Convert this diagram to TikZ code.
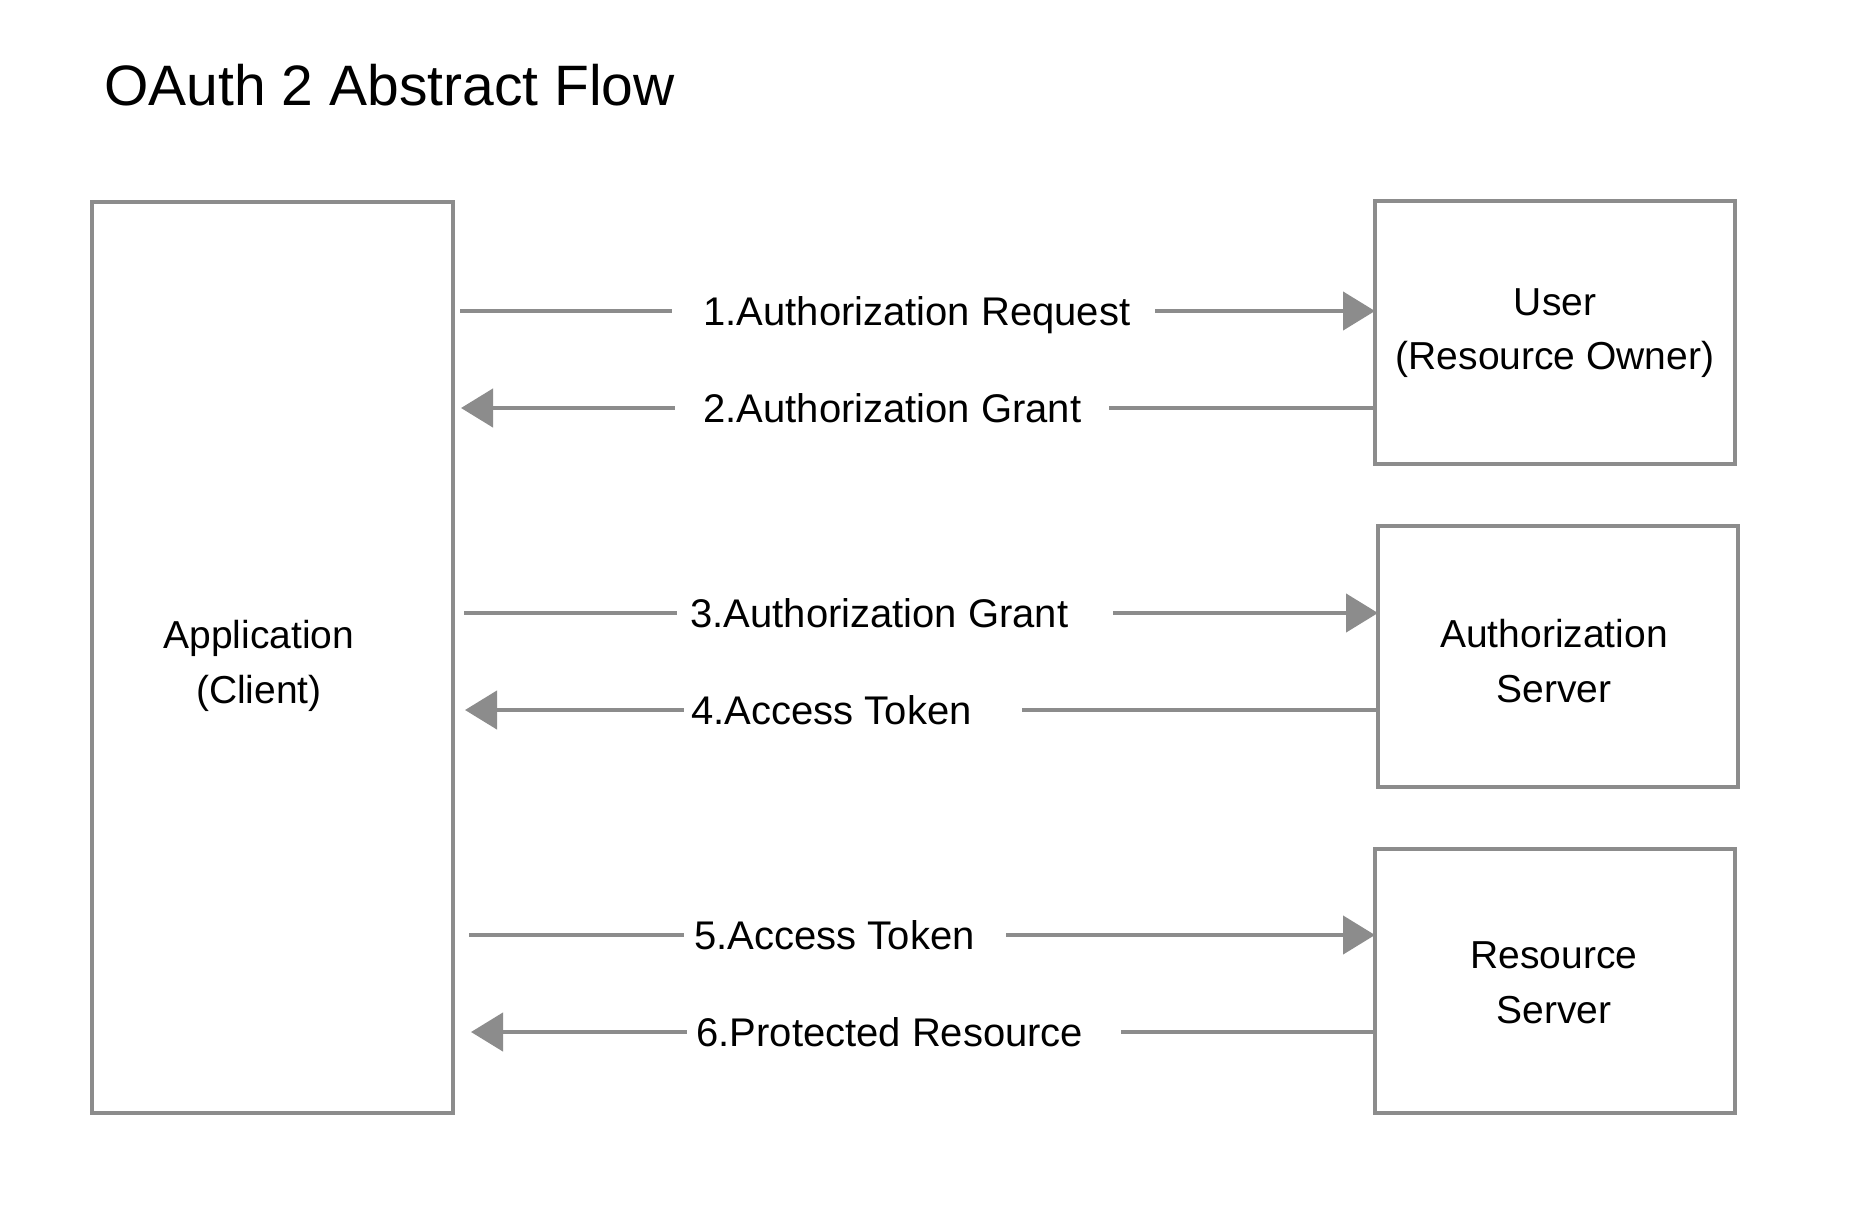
\documentclass[tikz,border=0pt]{standalone}
\usepackage{fontspec}
\setmainfont{Liberation Sans}
\usetikzlibrary{arrows.meta,calc}
\definecolor{sk}{RGB}{140,140,140}
\begin{document}
\begin{tikzpicture}[x=0.5pt,y=-0.5pt,
  boxs/.style={draw=sk,line width=2.2pt,inner sep=0pt,outer sep=0pt},
  boxtext/.style={align=center,inner sep=0pt,font=\fontsize{19.5}{27.3}\selectfont},
  lbl/.style={anchor=base west,inner sep=0pt,font=\fontsize{20}{24}\selectfont},
  conn/.style={draw=sk,line width=2.2pt},
  tipr/.style={-{Triangle[length=16pt,width=19pt]}},
  tipl/.style={{Triangle[length=16pt,width=19pt]}-}]
\useasboundingbox (0,0) rectangle (1856,1216);
\fill[white] (0,0) rectangle (1856,1216);

% title
\node[anchor=base west,inner sep=0pt,font=\fontsize{28.5}{34}\selectfont] (title) at (104,105) {OAuth 2 Abstract Flow};

% boxes
\node[boxs,minimum width=180.5pt,minimum height=455.5pt] (app) at (272.5,657.5) {};
\node[boxs,minimum width=180pt,minimum height=131.5pt] (user) at (1555,332.5) {};
\node[boxs,minimum width=180pt,minimum height=130.5pt] (auth) at (1558,656.5) {};
\node[boxs,minimum width=180pt,minimum height=132pt] (res) at (1555,981) {};

\node[boxtext] (appt) at (259,666) {Application\\(Client)};
\node[boxtext] (usert) at (1555,333) {User\\(Resource Owner)};
\node[boxtext] (autht) at (1554,661) {Authorization\\Server};
\node[boxtext] (rest) at (1554,983) {Resource\\Server};

% gap coordinates
\coordinate (g1a) at (672,311);  \coordinate (g1b) at (1155,311);
\coordinate (g2a) at (675,408);  \coordinate (g2b) at (1109,408);
\coordinate (g3a) at (677,613);  \coordinate (g3b) at (1113,613);
\coordinate (g4a) at (684,710);  \coordinate (g4b) at (1022,710);
\coordinate (g5a) at (684,935);  \coordinate (g5b) at (1006,935);
\coordinate (g6a) at (687,1032); \coordinate (g6b) at (1121,1032);

% arrows
\draw[conn] ($(app.east |- g1a)+(7,0)$) -- (g1a);
\draw[conn,tipr] (g1b) -- (user.west |- g1b);
\draw[conn,tipl] ($(app.east |- g2a)+(8,0)$) -- (g2a);
\draw[conn] (g2b) -- (user.west |- g2b);

\draw[conn] ($(app.east |- g3a)+(11,0)$) -- (g3a);
\draw[conn,tipr] (g3b) -- (auth.west |- g3b);
\draw[conn,tipl] ($(app.east |- g4a)+(12,0)$) -- (g4a);
\draw[conn] (g4b) -- (auth.west |- g4b);

\draw[conn] ($(app.east |- g5a)+(16,0)$) -- (g5a);
\draw[conn,tipr] (g5b) -- (res.west |- g5b);
\draw[conn,tipl] ($(app.east |- g6a)+(18,0)$) -- (g6a);
\draw[conn] (g6b) -- (res.west |- g6b);

% labels
\node[lbl] (l1) at (703,325) {1.Authorization Request};
\node[lbl] (l2) at (703,422) {2.Authorization Grant};
\node[lbl] (l3) at (690,627) {3.Authorization Grant};
\node[lbl] (l4) at (691,724) {4.Access Token};
\node[lbl] (l5) at (694,949) {5.Access Token};
\node[lbl] (l6) at (696,1046) {6.Protected Resource};
\end{tikzpicture}
\end{document}
